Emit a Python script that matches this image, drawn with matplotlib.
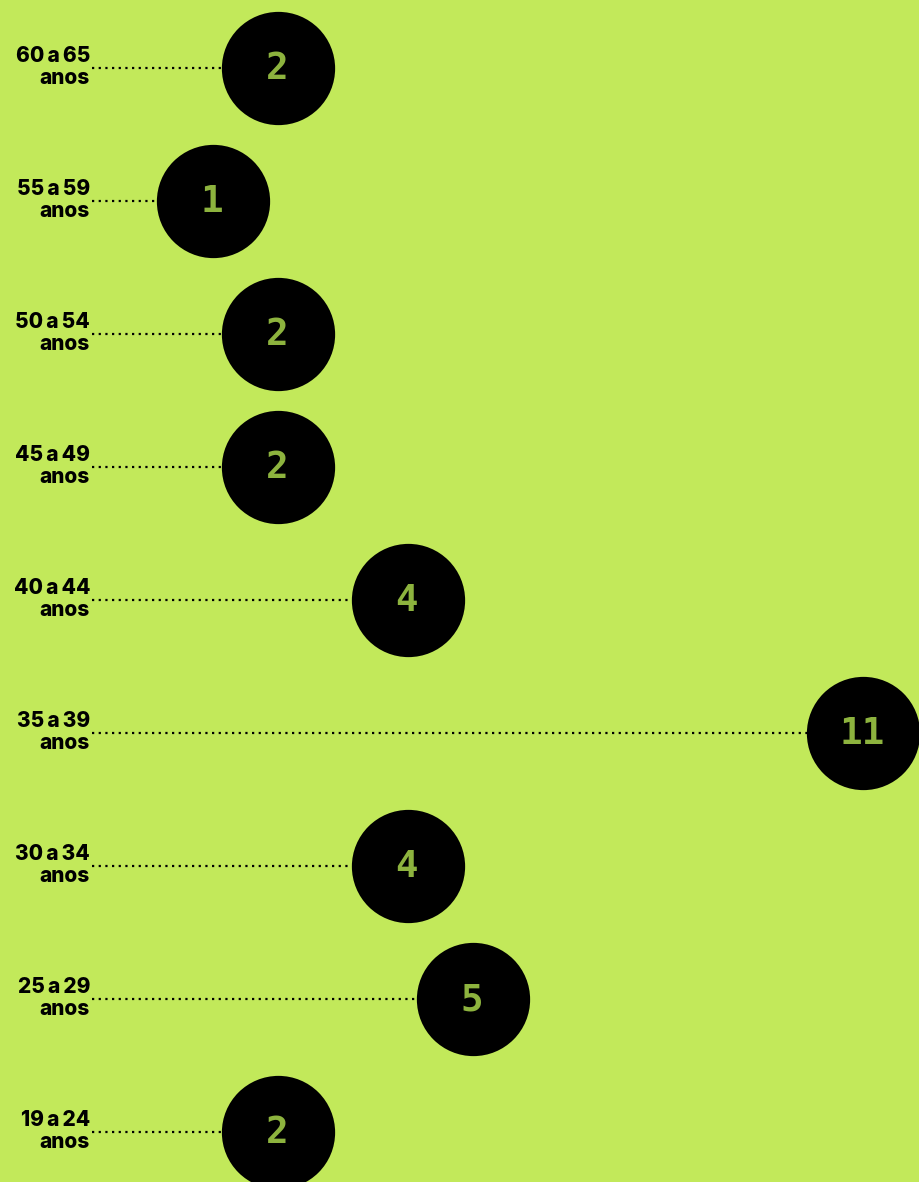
import matplotlib
matplotlib.use("Agg")
import matplotlib.pyplot as plt

# faixas etárias, de cima para baixo
faixas = ["60 a 65", "55 a 59", "50 a 54", "45 a 49", "40 a 44",
          "35 a 39", "30 a 34", "25 a 29", "19 a 24"]
valores = [2, 1, 2, 2, 4, 11, 4, 5, 2]

bg = "#c2e95a"
num_color = "#8db33e"

fig = plt.figure(figsize=(9.19, 11.82), dpi=100, facecolor=bg)
ax = fig.add_axes([0, 0, 1, 1])
ax.set_facecolor(bg)

# escala: x pixel = 148 + 65*v ; y pixel = 68 + 133*i
ax.set_xlim(-148 / 65, (919 - 148) / 65)
ax.set_ylim((1182 - 68) / 133, -68 / 133)
ax.axis("off")

x_start = (92 - 148) / 65
x_label = (90 - 148) / 65
pos = list(range(len(faixas)))

ax.hlines(pos, x_start, valores, colors="black", linewidth=1.6,
          linestyles=(0, (1, 2.0)), zorder=1)
ax.scatter(valores, pos, s=6650, color="black", zorder=2, linewidths=0)

for i, (f, v) in enumerate(zip(faixas, valores)):
    ax.text(x_label, i - 0.01, f.replace(" a ", "\u2009a\u2009") + "\nanos",
            ha="right", va="center",
            multialignment="right", fontsize=15, fontweight="heavy",
            family=["Inter", "DejaVu Sans"], linespacing=1.12, zorder=3)
    ax.text(v - 0.02, i + 0.01, str(v), ha="center", va="center",
            fontsize=27, fontweight="bold", family="DejaVu Sans Mono",
            color=num_color, zorder=3)

fig.savefig("out.png", dpi=100, facecolor=bg)
